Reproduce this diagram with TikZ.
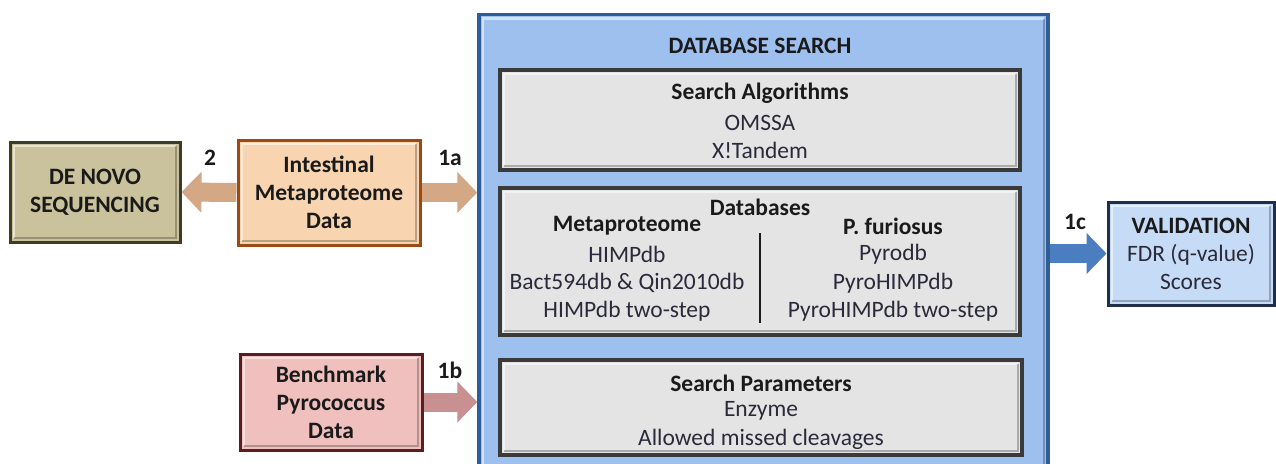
\documentclass[tikz,border=0pt]{standalone}
\usepackage{fontspec}
\setmainfont{Carlito}
\usetikzlibrary{arrows.meta,calc}
\definecolor{dnfill}{HTML}{C9C29C}
\definecolor{dnline}{HTML}{3C3C28}
\definecolor{imfill}{HTML}{F8D5B0}
\definecolor{imline}{HTML}{9B4A14}
\definecolor{bmfill}{HTML}{EFC0BE}
\definecolor{bmline}{HTML}{5A1E22}
\definecolor{dbfill}{HTML}{9DC0EF}
\definecolor{dbline}{HTML}{2F5D9A}
\definecolor{infill}{HTML}{E4E4E4}
\definecolor{inline}{HTML}{3A3A3A}
\definecolor{vafill}{HTML}{C6DCF6}
\definecolor{valine}{HTML}{1F2F4A}
\definecolor{tanarr}{HTML}{D4A884}
\definecolor{pinkarr}{HTML}{C89090}
\definecolor{bluearr}{HTML}{4A7EC0}
\definecolor{txt}{HTML}{1A1A1A}
\definecolor{txtreg}{HTML}{2A2A3A}
\begin{document}
\begin{tikzpicture}[x=1pt,y=-1pt,
  every node/.style={text=txt, font=\fontsize{23.5}{28}\selectfont},
  bevel/.style={path picture={
    \draw[white, opacity=0.55, line width=2.5pt]
      ([xshift=4pt,yshift=4pt]path picture bounding box.south west) --
      ([xshift=4pt,yshift=-4pt]path picture bounding box.north west) --
      ([xshift=-4pt,yshift=-4pt]path picture bounding box.north east);
    \draw[black, opacity=0.25, line width=2.5pt]
      ([xshift=-4pt,yshift=-4pt]path picture bounding box.north east) --
      ([xshift=-4pt,yshift=4pt]path picture bounding box.south east) --
      ([xshift=4pt,yshift=4pt]path picture bounding box.south west);}},
  box/.style={draw, line width=3pt, inner sep=0pt, align=center, bevel, font=\bfseries\fontsize{23.5}{28}\selectfont},
  inbox/.style={draw=inline, fill=infill, line width=3.5pt, inner sep=0pt, bevel},
  hd/.style={font=\bfseries\fontsize{23.5}{28}\selectfont},
  it/.style={text=txtreg, font=\fontsize{23.5}{28}\selectfont},
  lbl/.style={font=\bfseries\fontsize{23.5}{28}\selectfont},
  blockarr/.style={line width=19pt, -{Triangle[width=40pt,length=20pt]}}
]
\useasboundingbox[fill=white] (0,0) rectangle (1276,463);

% big database search box
\node[draw=dbline, fill=dbfill, line width=3.5pt, minimum width=569pt, minimum height=461pt, inner sep=0pt, bevel] (db) at (763.5,245) {};
\node[hd] (dbt) at (760,46) {DATABASE SEARCH};

% inner boxes
\node[inbox, minimum width=520pt, minimum height=100pt] (alg) at (760,120) {};
\node[hd] (algt) at (760,93) {Search Algorithms};
\node[it] (alg1) at (760,123) {OMSSA};
\node[it] (alg2) at (760,150) {X!Tandem};

\node[inbox, minimum width=520pt, minimum height=147pt] (dbs) at (760,261.5) {};
\node[hd] (dbst) at (760,207) {Databases};
\node[hd] (metat) at (627,226) {Metaproteome};
\node[hd] (pfut) at (893,226) {P. furiosus};
\node[it] (m1) at (627,254) {HIMPdb};
\node[it] (m2) at (627,283) {Bact594db \& Qin2010db};
\node[it] (m3) at (627,311) {HIMPdb two-step};
\node[it] (p1) at (893,254) {Pyrodb};
\node[it] (p2) at (893,283) {PyroHIMPdb};
\node[it] (p3) at (893,311) {PyroHIMPdb two-step};
\coordinate (vtop) at (760,233);
\coordinate (vbot) at (760,323);
\draw[line width=2.5pt, txt] (vtop) -- (vbot);

\node[inbox, minimum width=522pt, minimum height=95pt] (par) at (761,407.5) {};
\node[hd] (part) at (761,383) {Search Parameters};
\node[it] (par1) at (761,411) {Enzyme};
\node[it] (par2) at (761,439) {Allowed missed cleavages};

% left boxes
\node[box, draw=dnline, fill=dnfill, minimum width=170pt, minimum height=100pt] (dn) at (95,192) {DE NOVO\\SEQUENCING};
\node[box, draw=imline, fill=imfill, minimum width=182pt, minimum height=105pt] (im) at (329,192.5) {Intestinal\\Metaproteome\\Data};
\node[box, draw=bmline, fill=bmfill, minimum width=182pt, minimum height=96pt] (bm) at (331,402) {Benchmark\\Pyrococcus\\Data};

% validation
\node[box, draw=valine, fill=vafill, minimum width=166pt, minimum height=103pt, font=\fontsize{23.5}{28}\selectfont, text=txtreg] (val) at (1191,253.5) {\textbf{\textcolor{txt}{VALIDATION}}\\FDR (q-value)\\Scores};

% block arrows
\draw[blockarr, tanarr] (im.west) -- (dn.east);
\draw[blockarr, tanarr] (im.east) -- (db.west |- im.east);
\draw[blockarr, pinkarr] (bm.east) -- (db.west |- bm.east);
\draw[blockarr, bluearr] (db.east |- val.west) -- (val.west);

% labels
\node[lbl] (l2) at (210,158) {2};
\node[lbl] (l1a) at (450,158) {1a};
\node[lbl] (l1b) at (450,370) {1b};
\node[lbl] (l1c) at (1075,222) {1c};
\end{tikzpicture}
\end{document}
